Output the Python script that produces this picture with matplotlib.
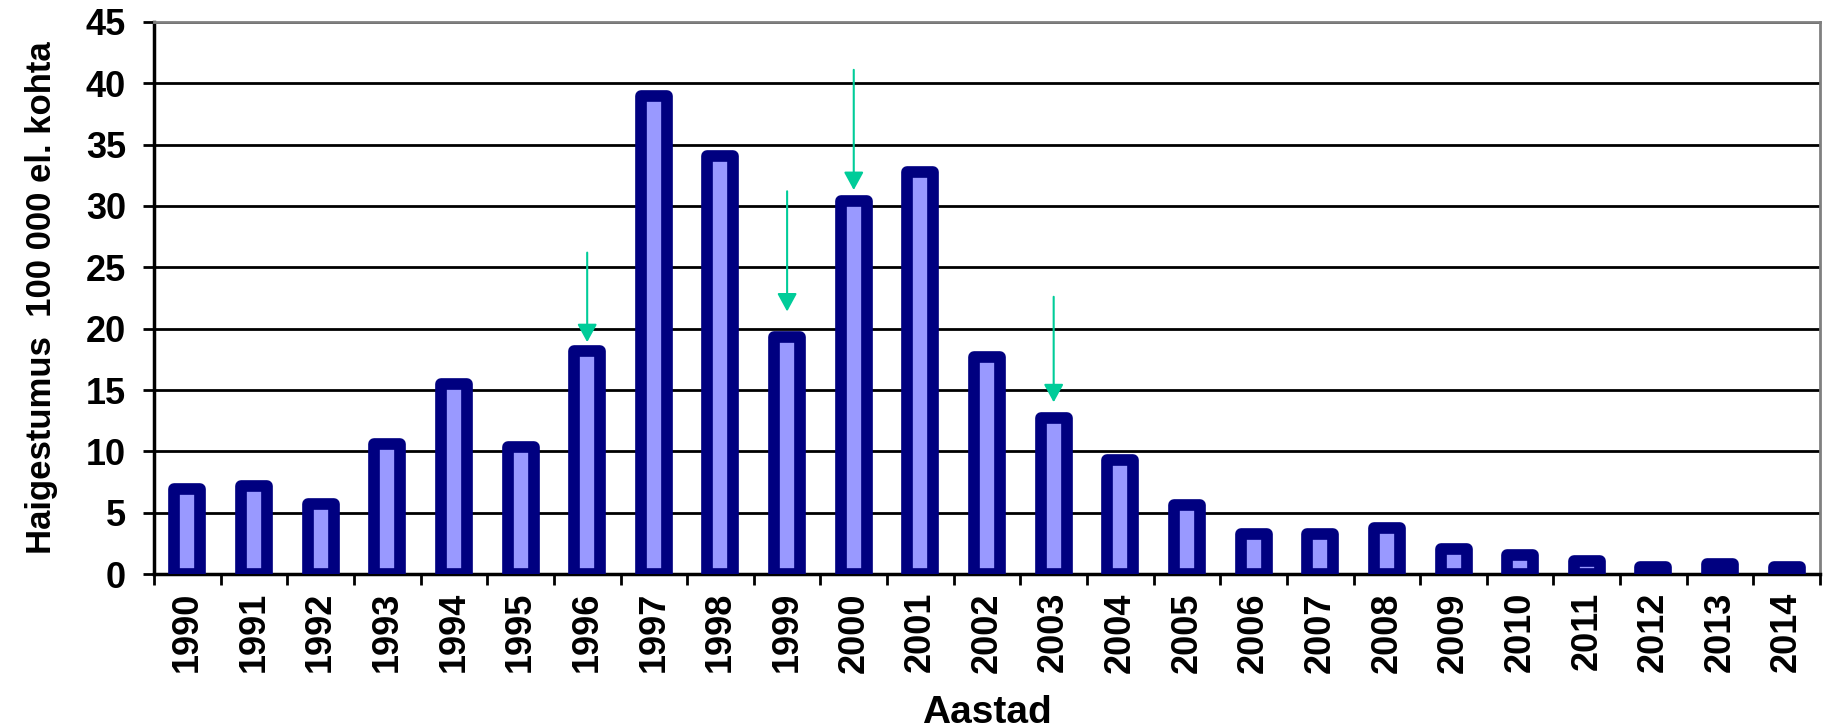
import numpy as np
import matplotlib.pyplot as plt
from matplotlib.ticker import FixedLocator

plt.rcParams['font.family'] = ['Liberation Sans', 'DejaVu Sans']
plt.rcParams['font.weight'] = 'bold'

# Incidence per 100 000 inhabitants
years = [str(y) for y in range(1990, 2015)]
values = [6.9, 7.2, 5.7, 10.6, 15.5, 10.35, 18.2, 39.0, 34.1, 19.3,
          30.4, 32.8, 17.7, 12.75, 9.33, 5.66, 3.26, 3.26, 3.75, 2.04,
          1.55, 1.06, 0.57, 0.8, 0.57]

# Arrows: year, start value, tip value
arrow_years = ['1996', '1999', '2000', '2003']
arrow_start = [26.2, 31.2, 41.1, 22.6]
arrow_end = [18.9, 21.4, 31.3, 14.0]

fig = plt.figure(figsize=(18.27, 7.28), dpi=100)
ax = fig.add_axes([0.0843, 0.2115, 0.9119, 0.7583])

x = np.arange(len(years))
ax.bar(x, values, width=0.39, color='#9999FF', edgecolor='#000080',
       linewidth=8.4, joinstyle='round', zorder=3)

for yr, y0, y1 in zip(arrow_years, arrow_start, arrow_end):
    xi = years.index(yr)
    ax.annotate('', xy=(xi, y1), xytext=(xi, y0),
                arrowprops=dict(arrowstyle='-|>,head_length=0.55,head_width=0.3',
                                color='#00CC99', lw=1.5, mutation_scale=20,
                                shrinkA=0, shrinkB=0),
                zorder=4)

ax.set_xlim(-0.5, len(years) - 0.5)
ax.set_ylim(0, 45)
ax.set_yticks(range(0, 46, 5))
ax.yaxis.grid(True, color='black', linewidth=2)
ax.set_axisbelow(True)

ax.set_xticks(x)
ax.set_xticklabels(years, rotation=90)
ax.xaxis.set_minor_locator(FixedLocator(np.arange(-0.5, len(years), 1)))
ax.tick_params(axis='x', which='major', length=0, pad=13, labelsize=26)
ax.tick_params(axis='x', which='minor', length=8, width=2, direction='out')
ax.tick_params(axis='y', length=8, width=2, direction='out', pad=12, labelsize=26)

for side in ['left', 'bottom']:
    ax.spines[side].set_linewidth(2.5)
    ax.spines[side].set_color('black')
for side in ['top', 'right']:
    ax.spines[side].set_linewidth(2)
    ax.spines[side].set_color('#808080')

ax.set_xlabel('Aastad', fontsize=28, fontweight='bold', labelpad=16)
ax.set_ylabel('Haigestumus  100 000 el. kohta', fontsize=25, fontweight='bold', labelpad=20)

fig.savefig('out.png', dpi=100)
